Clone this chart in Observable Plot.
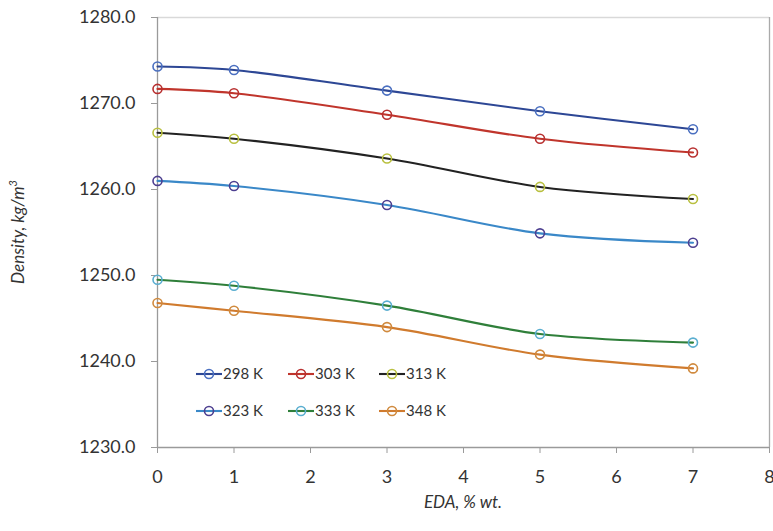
<!DOCTYPE html>
<html>
<head>
<meta charset="utf-8">
<script src="https://cdn.jsdelivr.net/npm/d3@7"></script>
<script src="https://cdn.jsdelivr.net/npm/@observablehq/plot@0.6"></script>
<style>
  html, body { margin: 0; padding: 0; background: #fff; }
  #chart { width: 773px; height: 531px; position: relative; }
  svg { font-family: Lato, "Open Sans", sans-serif; }
</style>
</head>
<body>
<div id="chart"></div>
<script>
// ---- data ----
const eda = [0, 1, 3, 5, 7];
const seriesNames = ["298 K", "303 K", "313 K", "323 K", "333 K", "348 K"];
const d298 = [1274.3, 1273.9, 1271.5, 1269.1, 1267.0];
const d303 = [1271.7, 1271.2, 1268.7, 1265.9, 1264.3];
const d313 = [1266.6, 1265.9, 1263.6, 1260.3, 1258.9];
const d323 = [1261.0, 1260.4, 1258.2, 1254.9, 1253.8];
const d333 = [1249.5, 1248.8, 1246.5, 1243.2, 1242.2];
const d348 = [1246.8, 1245.9, 1244.0, 1240.8, 1239.2];
const xTicks = [0, 1, 2, 3, 4, 5, 6, 7, 8];
const yTicks = [1230, 1240, 1250, 1260, 1270, 1280];
const lineColors = ["#2d4795", "#c0352c", "#222222", "#3a88c8", "#2f7f3a", "#d07b2e"];
const markColors = ["#4a6fc0", "#b83030", "#b9c040", "#4d3f90", "#5aaed0", "#d08a3e"];

const allSeries = [d298, d303, d313, d323, d333, d348];
const rows = [];
allSeries.forEach((vals, i) => {
  vals.forEach((v, j) => rows.push({series: seriesNames[i], x: eda[j], y: v}));
});

const W = 773, H = 531;
const plot = Plot.plot({
  width: W,
  height: H,
  marginLeft: 157,
  marginRight: 4,
  marginTop: 17,
  marginBottom: 84,
  style: {fontFamily: "Lato, 'Open Sans', sans-serif", background: "#fff"},
  x: {domain: [0, 8], ticks: xTicks, label: null},
  y: {domain: [1230, 1280], ticks: yTicks, label: null},
  color: {domain: seriesNames, range: lineColors},
  marks: [
    Plot.ruleY([1280], {stroke: "#d9d9d9", strokeWidth: 1.3}),
    Plot.ruleX([8], {stroke: "#aaaaaa", strokeWidth: 1.3}),
    Plot.ruleX([0], {stroke: "#9a9a9a", strokeWidth: 1.3}),
    Plot.ruleY([1230], {stroke: "#9a9a9a", strokeWidth: 1.3}),
    Plot.axisX({ticks: xTicks, tickSize: 6, tickPadding: 17, stroke: "#9a9a9a",
      fontSize: 18, fill: "#333", tickFormat: d3.format("d")}),
    Plot.axisY({ticks: yTicks, tickSize: 6, tickPadding: 16, stroke: "#9a9a9a",
      fontSize: 18, fill: "#333", tickFormat: d3.format(".1f")}),
    Plot.line(rows, {x: "x", y: "y", z: "series", stroke: "series", strokeWidth: 2.1, curve: "catmull-rom"}),
    Plot.dot(rows, {x: "x", y: "y", r: 4.5, fill: "none", strokeWidth: 1.6,
      stroke: d => markColors[seriesNames.indexOf(d.series)]})
  ]
});

const svg = d3.select(plot);
// axis titles
svg.append("text")
  .attr("transform", "translate(24,232) rotate(-90)")
  .attr("text-anchor", "middle")
  .attr("font-size", 17).attr("font-style", "italic").attr("fill", "#333")
  .html('Density, kg/m<tspan dy="-7" font-size="11">3</tspan>');
svg.append("text")
  .attr("x", 463).attr("y", 508)
  .attr("text-anchor", "middle")
  .attr("font-size", 17).attr("font-style", "italic").attr("fill", "#333")
  .text("EDA, % wt.");

// legend
const legX = [196, 288, 379];
const legY = [374, 411];
const leg = svg.append("g").attr("font-size", 15).attr("fill", "#333").attr("text-anchor", "start");
seriesNames.forEach((name, i) => {
  const lx = legX[i % 3], ly = legY[Math.floor(i / 3)];
  leg.append("line").attr("x1", lx).attr("x2", lx + 26).attr("y1", ly).attr("y2", ly)
    .attr("stroke", lineColors[i]).attr("stroke-width", 2.1);
  leg.append("circle").attr("cx", lx + 13).attr("cy", ly).attr("r", 4.5)
    .attr("fill", "none").attr("stroke", markColors[i]).attr("stroke-width", 1.6);
  leg.append("text").attr("x", lx + 27).attr("y", ly).attr("dy", "0.35em")
    .attr("text-anchor", "start").text(name);
});

document.getElementById("chart").appendChild(plot);
</script>
</body>
</html>
